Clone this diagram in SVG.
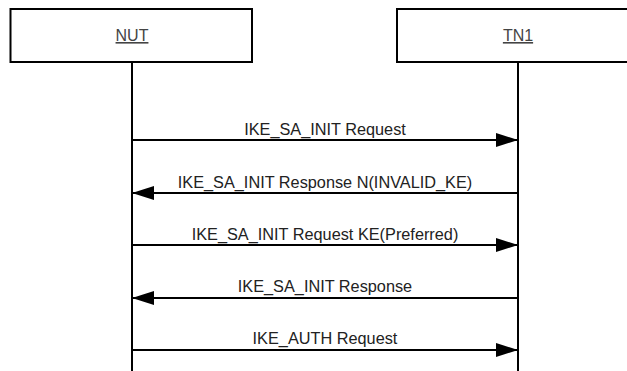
<svg xmlns="http://www.w3.org/2000/svg" width="627" height="371" viewBox="0 0 627 371">
  <style>
    .box { fill: #ffffff; stroke: #000000; stroke-width: 2; }
    .life { stroke: #000000; stroke-width: 2; fill: none; }
    .msg { stroke: #000000; stroke-width: 2; fill: none; marker-end: url(#arrow); }
    .name { font-family: "Liberation Sans", Arial, sans-serif; font-size: 16px; fill: #444444; text-anchor: middle; text-decoration: underline; }
    .lbl { font-family: "Liberation Sans", Arial, Helvetica, sans-serif; font-size: 16.3px; fill: #222222; text-anchor: middle; }
  </style>
  <defs>
    <marker id="arrow" markerUnits="userSpaceOnUse" markerWidth="22" markerHeight="14" refX="22" refY="7" orient="auto">
      <path d="M0,0 L22,7 L0,14 z" fill="#000000"/>
    </marker>
  </defs>
  <rect x="0" y="0" width="627" height="371" fill="#ffffff"/>
  <g id="node-NUT">
    <rect class="box" x="10.5" y="9" width="241.5" height="53"/>
    <text class="name" x="132" y="41">NUT</text>
    <line class="life" x1="132" y1="62" x2="132" y2="371"/>
  </g>
  <g id="node-TN1">
    <rect class="box" x="397" y="9" width="241.5" height="53"/>
    <text class="name" x="518" y="41">TN1</text>
    <line class="life" x1="518" y1="62" x2="518" y2="371"/>
  </g>
  <g id="connectors">
    <line class="msg" x1="132" y1="140" x2="518" y2="140"/>
    <text class="lbl" x="325" y="134.5">IKE_SA_INIT Request</text>
    <line class="msg" x1="518" y1="193" x2="132" y2="193"/>
    <text class="lbl" x="325" y="187.5">IKE_SA_INIT Response N(INVALID_KE)</text>
    <line class="msg" x1="132" y1="245" x2="518" y2="245"/>
    <text class="lbl" x="325" y="239.5">IKE_SA_INIT Request KE(Preferred)</text>
    <line class="msg" x1="518" y1="298" x2="132" y2="298"/>
    <text class="lbl" x="325" y="292">IKE_SA_INIT Response</text>
    <line class="msg" x1="132" y1="350" x2="518" y2="350"/>
    <text class="lbl" x="325" y="344">IKE_AUTH Request</text>
  </g>
</svg>
